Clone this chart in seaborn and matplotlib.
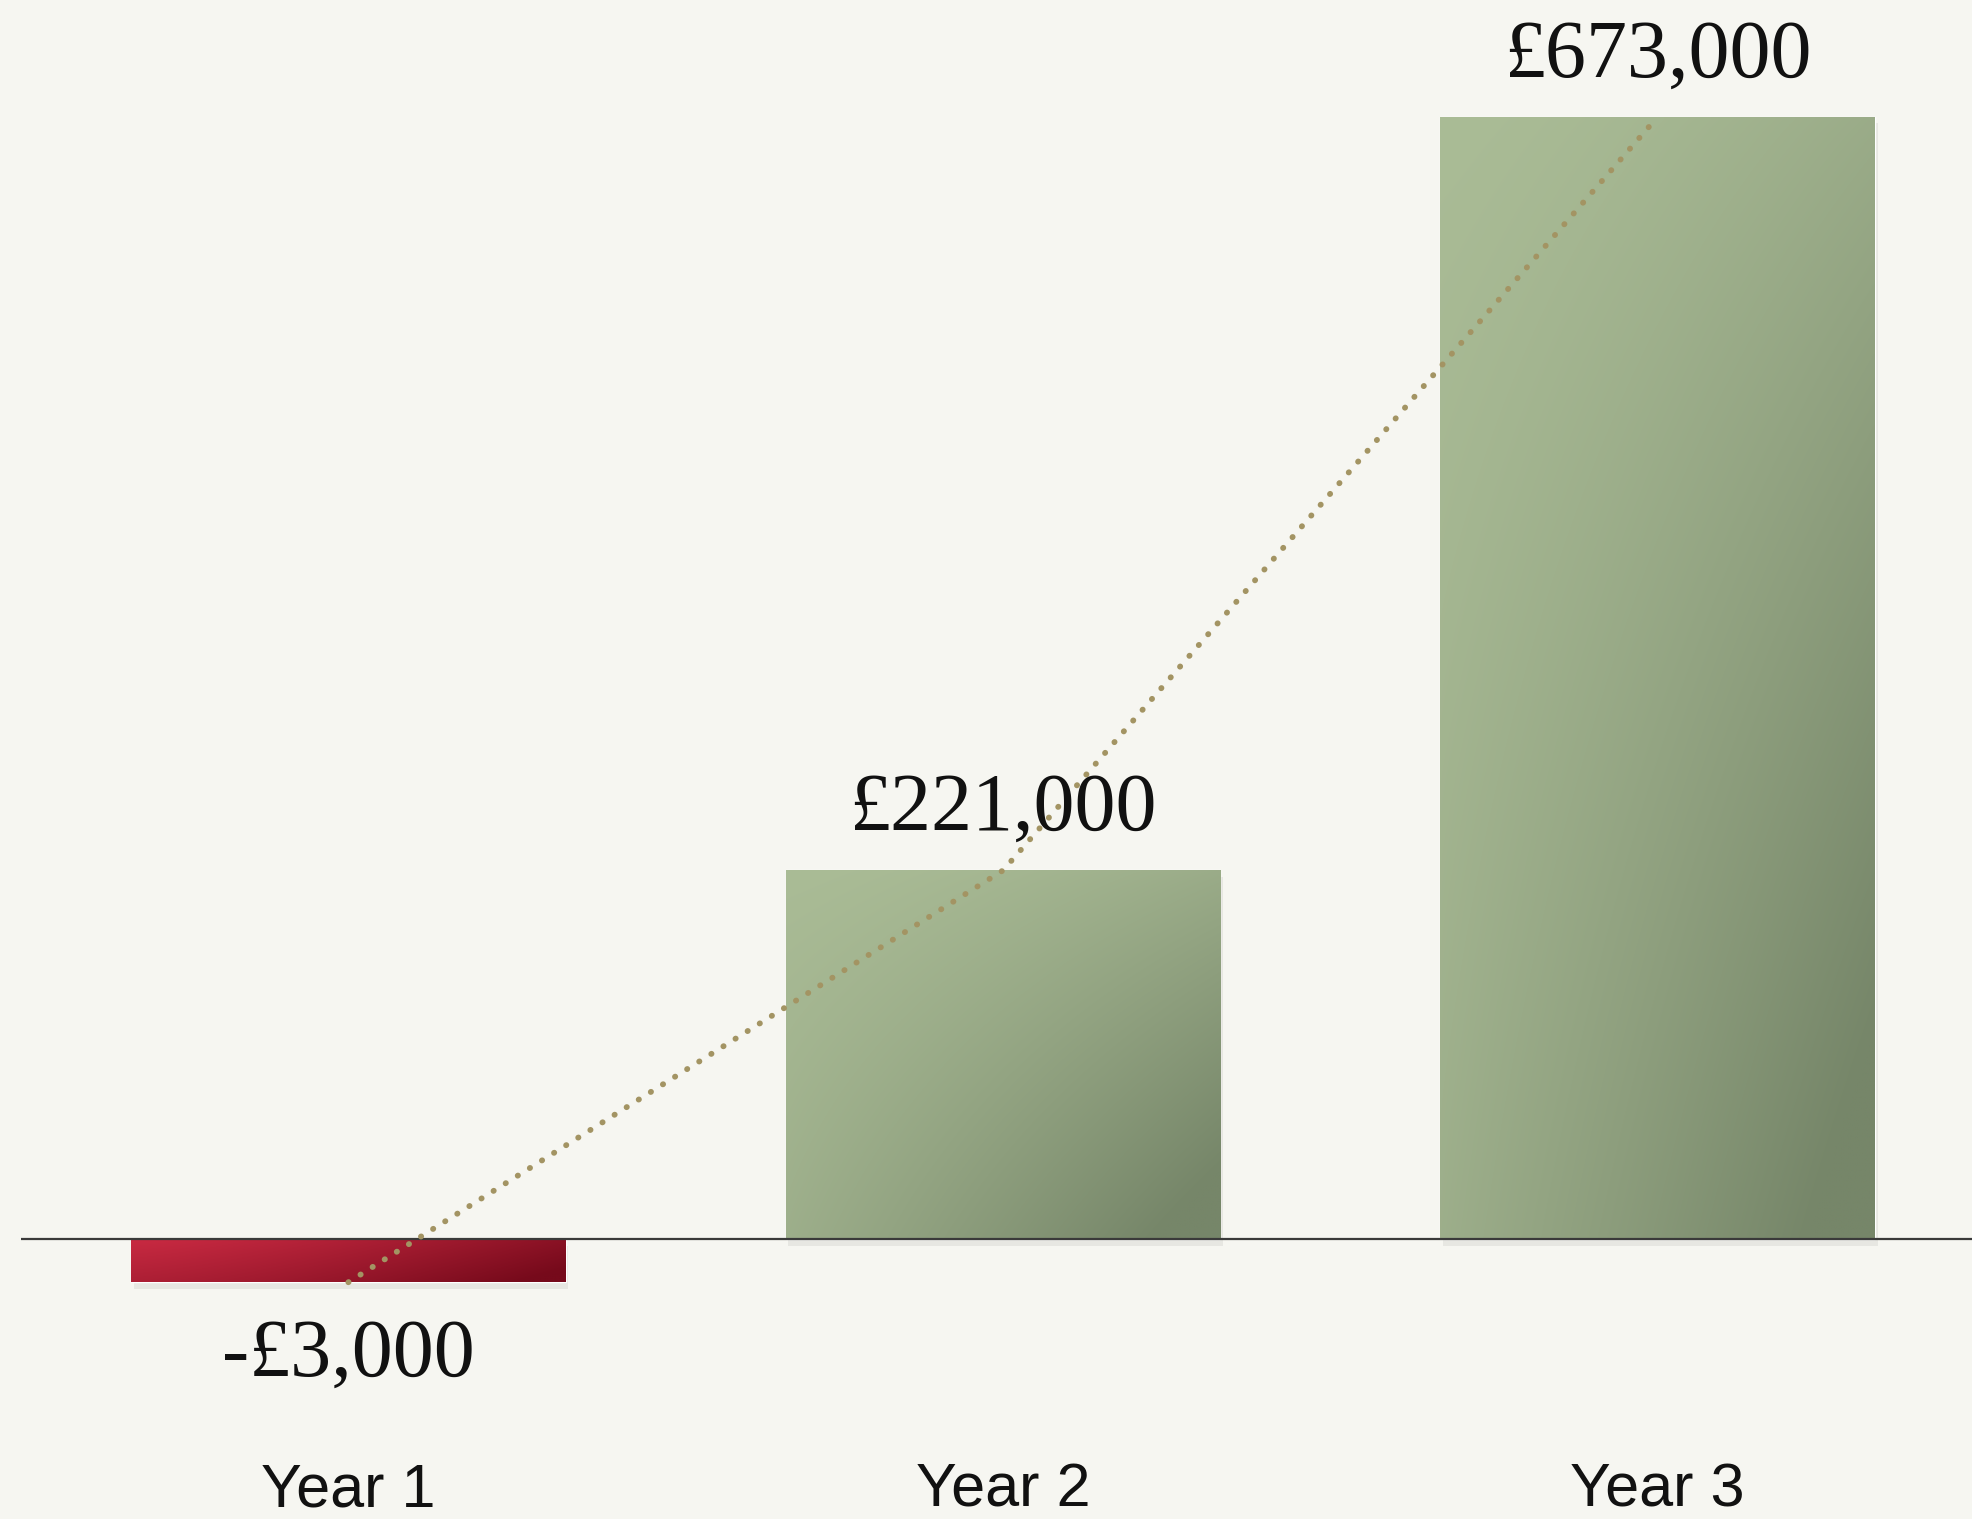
import numpy as np
import pandas as pd
import matplotlib
matplotlib.use("Agg")
import matplotlib.pyplot as plt
import matplotlib.colors as mcolors
import seaborn as sns

# ---- data ----
years = ["Year 1", "Year 2", "Year 3"]
profit = [-3000, 221000, 673000]
value_labels = ["-£3,000", "£221,000", "£673,000"]

# ---- style ----
BG = "#f6f6f1"
MIN_BAR_DEPTH = 26000  # negative bars are drawn at least this deep so they stay visible
GREEN_LIGHT, GREEN_DARK = "#aabc96", "#768669"
RED_LIGHT, RED_DARK = "#c92a42", "#760a1b"

sns.set_theme(style="white")
plt.rcParams["font.family"] = ["Liberation Sans", "DejaVu Sans"]

display_vals = [v if v >= 0 else min(v, -MIN_BAR_DEPTH) for v in profit]
df = pd.DataFrame({"year": years, "value": display_vals})

fig = plt.figure(figsize=(19.72, 15.19), dpi=100, facecolor=BG)
ax = fig.add_axes([21 / 1972, 0, 1 - 21 / 1972, 1])
ax.set_facecolor(BG)

colors = [GREEN_LIGHT if v >= 0 else RED_LIGHT for v in profit]
sns.barplot(data=df, x="year", y="value", hue="year", palette=colors,
            width=0.664, legend=False, ax=ax, saturation=1)

ax.set_xlim(-0.5, 2.48)
ax.set_ylim(-168000, 743000)

# gradient fills clipped to bars
for patch, v in zip(ax.patches, profit):
    x0, y0 = patch.get_x(), patch.get_y()
    w, h = patch.get_width(), patch.get_height()
    ylo, yhi = min(y0, y0 + h), max(y0, y0 + h)
    light, dark = (GREEN_LIGHT, GREEN_DARK) if v >= 0 else (RED_LIGHT, RED_DARK)
    c1 = np.array(mcolors.to_rgb(light))
    c2 = np.array(mcolors.to_rgb(dark))
    n = 200
    u = np.linspace(0, 1, n)[None, :]
    t = np.linspace(0, 1, n)[:, None]
    if v >= 0:
        f = np.clip(0.30 * u ** 1.5 + 0.60 * (u * t) ** 0.9 + 0.25 * t, 0, 1)
    else:
        f = np.clip(0.75 * u ** 1.3 + 0.35 * t, 0, 1)
    img = c1[None, None, :] * (1 - f[..., None]) + c2[None, None, :] * f[..., None]
    # drop shadow
    sh = plt.Rectangle((x0 + 0.004, ylo - 4000), w, yhi - ylo, facecolor="#000000",
                       alpha=0.06, edgecolor="none", zorder=1.5)
    ax.add_patch(sh)
    im = ax.imshow(img, extent=(x0, x0 + w, ylo, yhi), origin="upper",
                   aspect="auto", zorder=2, interpolation="bilinear")
    im.set_clip_path(patch)
    patch.set_zorder(2)

ax.set_xlim(-0.5, 2.48)
ax.set_ylim(-168000, 743000)

ax.axhline(0, color="#3a3a3a", lw=1.6, zorder=3)

# dotted trend line through bar ends
ax.plot(range(len(years)), display_vals, linestyle=(0, (0.05, 2.4)), color="#a39463",
        lw=4.2, zorder=4, dash_capstyle="round", solid_capstyle="round")

# value labels
for i, (v, d, lab) in enumerate(zip(profit, display_vals, value_labels)):
    off = 60 if v >= 0 else -74
    ax.annotate(lab, xy=(i, d), xytext=(0, off), textcoords="offset pixels",
                ha="center", va="center", fontsize=59,
                family=["Liberation Serif", "DejaVu Serif"], color="#111111", zorder=5)

# category labels
for i, y in enumerate(years):
    ax.text(i, -151500, y, ha="center", va="center", fontsize=44,
            color="#111111", family=["Liberation Sans", "DejaVu Sans"])

ax.set_xticks([])
ax.set_yticks([])
ax.set_xlabel("")
ax.set_ylabel("")
for s in ax.spines.values():
    s.set_visible(False)

fig.savefig("out.png", dpi=100, facecolor=BG)
